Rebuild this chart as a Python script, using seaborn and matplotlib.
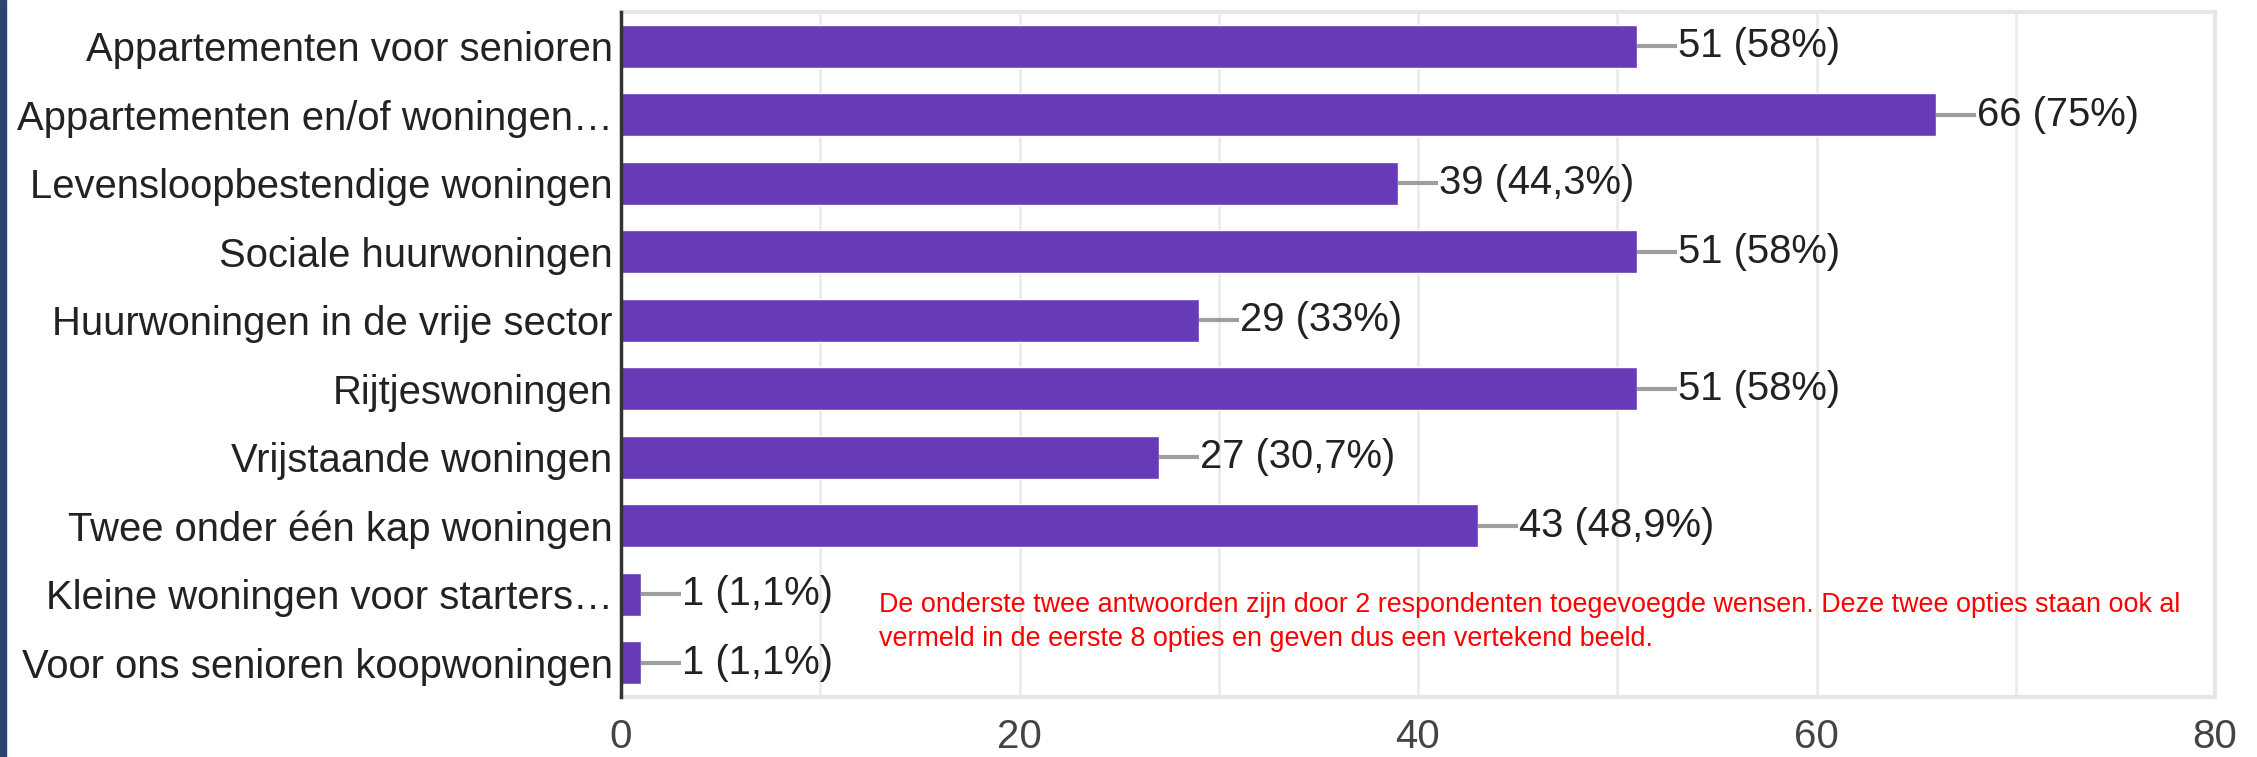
import matplotlib
matplotlib.use("Agg")
import matplotlib.pyplot as plt
import matplotlib.patches as mpatches
import seaborn as sns
import pandas as pd

# survey answers (wensen woningbouw)
categories = [
    "Appartementen voor senioren",
    "Appartementen en/of woningen…",
    "Levensloopbestendige woningen",
    "Sociale huurwoningen",
    "Huurwoningen in de vrije sector",
    "Rijtjeswoningen",
    "Vrijstaande woningen",
    "Twee onder één kap woningen",
    "Kleine woningen voor starters…",
    "Voor ons senioren koopwoningen",
]
counts = [51, 66, 39, 51, 29, 51, 27, 43, 1, 1]
percents = ["58%", "75%", "44,3%", "58%", "33%", "58%", "30,7%", "48,9%", "1,1%", "1,1%"]
xticks = [0, 20, 40, 60, 80]

note = ("De onderste twee antwoorden zijn door 2 respondenten toegevoegde wensen. Deze twee opties staan ook al\n"
        "vermeld in de eerste 8 opties en geven dus een vertekend beeld.")

sns.set_style("white")
plt.rcParams['font.family'] = ['Liberation Sans', 'DejaVu Sans']

df = pd.DataFrame({"antwoord": categories, "aantal": counts})

fig = plt.figure(figsize=(22.57, 7.57), dpi=100)
# dark strip at the left edge of the screenshot
fig.patches.append(mpatches.Rectangle((0, 0), 6 / 2257, 1, transform=fig.transFigure,
                                      color="#2c4470", zorder=10))
ax = fig.add_axes([621 / 2257, 60 / 757, (2215 - 621) / 2257, (697 - 12) / 757])

# minor + major grid
for v in range(10, 80, 10):
    ax.axvline(v, color="#ebebeb", lw=2, zorder=0)

sns.barplot(data=df, y="antwoord", x="aantal", color="#673ab7", saturation=1,
            width=0.63, orient="h", ax=ax, zorder=2)

for i, (c, p) in enumerate(zip(counts, percents)):
    ax.plot([c, c + 2.0], [i, i], color="#9e9e9e", lw=3, zorder=3, solid_capstyle="butt")
    ax.text(c + 2.05, i, f"{c} ({p})", va="center", ha="left", fontsize=28.8, color="#222222")

ax.text(0.162, 0.11, note, transform=ax.transAxes, color="#ff0000", fontsize=19.4,
        va="center", ha="left", linespacing=1.4)

ax.set_xlim(0, 80)
ax.set_ylim(9.5, -0.5)
ax.set_xticks(xticks)
ax.set_xticklabels([str(t) for t in xticks])
ax.set_xlabel("")
ax.set_ylabel("")
ax.tick_params(axis="x", length=0, pad=15, labelsize=29, labelcolor="#444444")
ax.tick_params(axis="y", length=0, pad=6, labelsize=28.8, labelcolor="#222222")

for s in ["top", "right", "bottom"]:
    ax.spines[s].set_color("#e6e6e6")
    ax.spines[s].set_linewidth(3)
ax.spines["left"].set_color("#333333")
ax.spines["left"].set_linewidth(2.5)
ax.spines["left"].set_zorder(5)

fig.savefig("out.png", dpi=100)
